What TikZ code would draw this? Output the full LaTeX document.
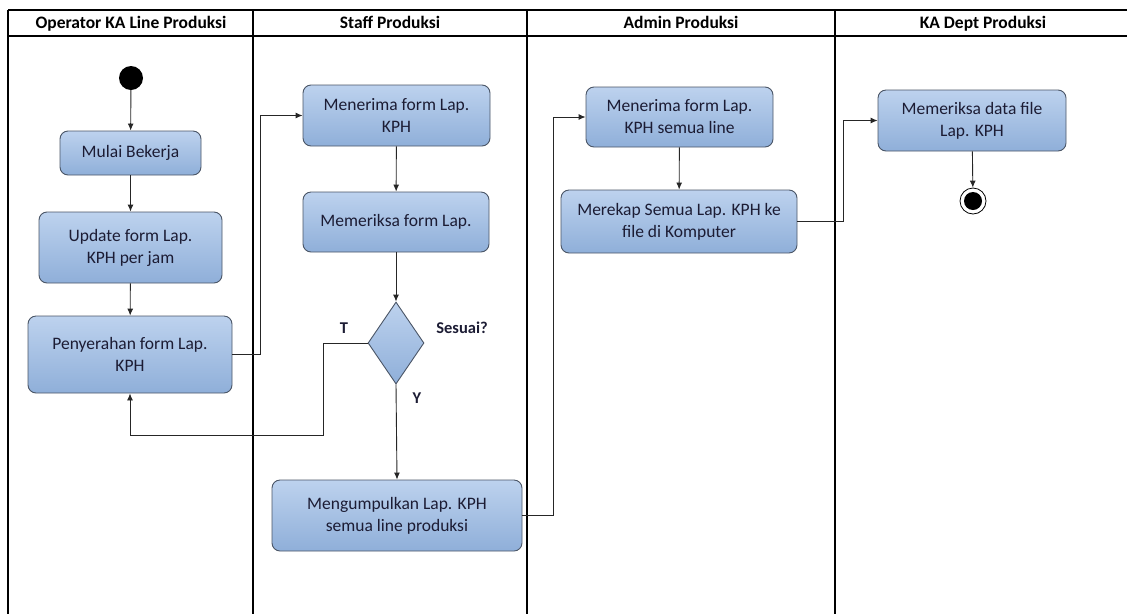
\documentclass[tikz,border=0pt]{standalone}
\usepackage{fontspec}
\setmainfont{Carlito}
\usetikzlibrary{shapes.geometric,arrows.meta}
\definecolor{boxtop}{HTML}{BDD2EE}
\definecolor{boxbot}{HTML}{8FAFD9}
\definecolor{boxline}{HTML}{4A5566}
\definecolor{txt}{HTML}{1C1C34}
\tikzset{
  lanebar/.style={line width=2.6pt, black},
  hdr/.style={font=\fontsize{17.5}{20}\selectfont\bfseries, text=black, anchor=base, inner sep=0pt},
  actbox/.style={draw=boxline, line width=0.9pt, rounded corners=8pt,
     top color=boxtop, bottom color=boxbot, align=center, inner sep=2pt,
     font=\fontsize{17.5}{22}\selectfont, text=txt},
  decbox/.style={diamond, draw=boxline, line width=0.9pt, top color=boxtop,
     bottom color=boxbot, inner sep=0pt},
  arr/.style={draw=black!85, line width=0.9pt, -{Latex[length=7pt,width=6pt]}},
  lbl/.style={font=\fontsize{16.5}{19}\selectfont\bfseries, text=txt}
}
\begin{document}
\begin{tikzpicture}[x=1pt,y=-1pt]
\useasboundingbox (0,0) rectangle (1127,614);
% swimlane frame
\draw[lanebar] (8,10) -- (1127,10);
\draw[lanebar] (8,36) -- (1127,36);
\draw[lanebar] (8,10) -- (8,614);
\draw[lanebar] (253,10) -- (253,614);
\draw[lanebar] (527,10) -- (527,614);
\draw[lanebar] (835,10) -- (835,614);
% headers
\node[hdr] (h1) at (131,28.5) {Operator KA Line Produksi};
\node[hdr] (h2) at (390,28.5) {Staff Produksi};
\node[hdr] (h3) at (681,28.5) {Admin Produksi};
\node[hdr] (h4) at (983,28.5) {KA Dept Produksi};
% nodes
\node[circle, fill=black, minimum size=24pt, inner sep=0pt] (start) at (131,78) {};
\node[actbox, minimum width=141pt, minimum height=44pt] (mulai) at (130.5,153) {Mulai Bekerja};
\node[actbox, minimum width=183pt, minimum height=71pt] (update) at (130.5,247.5) {Update form Lap.\\KPH per jam};
\node[actbox, minimum width=204pt, minimum height=77pt] (serah) at (130,354.5) {Penyerahan form Lap.\\KPH};
\node[actbox, minimum width=187pt, minimum height=61pt] (terima1) at (396.5,115.5) {Menerima form Lap.\\KPH};
\node[actbox, minimum width=186pt, minimum height=60pt] (periksa) at (396,222) {Memeriksa form Lap.};
\node[decbox, minimum width=56pt, minimum height=82pt] (dec) at (396,343) {};
\node[actbox, minimum width=250pt, minimum height=71pt] (kumpul) at (397,515.5) {Mengumpulkan Lap. KPH\\semua line produksi};
\node[actbox, minimum width=187pt, minimum height=60pt] (terima2) at (679.5,117) {Menerima form Lap.\\KPH semua line};
\node[actbox, minimum width=236pt, minimum height=63pt] (rekap) at (679,221.5) {Merekap Semua Lap. KPH ke\\file di Komputer};
\node[actbox, minimum width=188pt, minimum height=61pt] (periksa2) at (972,120.5) {Memeriksa data file\\Lap. KPH};
\node[circle, draw=black, line width=0.8pt, fill=white, minimum size=26pt, inner sep=0pt] (end) at (973,201) {};
\node[circle, fill=black, minimum size=18pt, inner sep=0pt] (endin) at (end.center) {};
% labels
\node[lbl] (lt) at (344,328) {T};
\node[lbl] (ls) at (462,328) {Sesuai?};
\node[lbl] (ly) at (417,398) {Y};
% connectors
\coordinate (tc) at (323,435);
\draw[arr] (start) -- (mulai);
\draw[arr] (mulai) -- (update);
\draw[arr] (update) -- (serah);
\draw[arr] (serah.east) -- ++(28,0) |- (terima1.west);
\draw[arr] (terima1) -- (periksa);
\draw[arr] (periksa) -- (dec.north);
\draw[arr] (dec.west) -| (tc) -| (serah.south);
\draw[arr] (dec.south) -- (kumpul.north);
\draw[arr] (kumpul.east) -- ++(31,0) |- (terima2.west);
\draw[arr] (terima2) -- (rekap);
\draw[arr] (rekap.east) -- ++(46,0) |- (periksa2.west);
\draw[arr] (periksa2) -- (end);
\end{tikzpicture}
\end{document}
